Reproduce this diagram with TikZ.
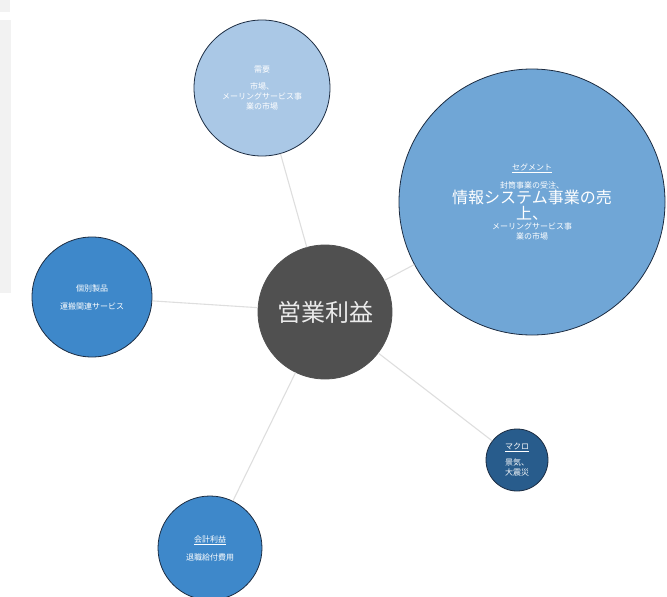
\documentclass[tikz,border=0pt]{standalone}
\usepackage{fontspec}
\setmainfont{Noto Sans CJK JP}
\usepackage{xcolor}
\usetikzlibrary{positioning}
\definecolor{mapcore}{RGB}{80,80,80}
\definecolor{mappale}{RGB}{170,200,230}
\definecolor{mapmid}{RGB}{112,166,214}
\definecolor{mapblue}{RGB}{62,136,202}
\definecolor{mapdeep}{RGB}{40,92,140}
\definecolor{mapedge}{RGB}{28,44,66}
\definecolor{maplink}{RGB}{222,222,222}
\definecolor{mapside}{RGB}{242,242,242}

\begin{document}
\begin{tikzpicture}[
    x=1pt, y=-1pt,
    bubble/.style={circle, draw=mapedge, line width=0.8pt, inner sep=0pt, align=center, text=white, font=\fontsize{8}{10}\selectfont},
    link/.style={draw=maplink, line width=1.1pt}
]
    \useasboundingbox (0,0) rectangle (667,597);
    \fill[mapside] (0,0) rectangle (10,12);
    \fill[mapside] (0,20) rectangle (11,293);

    \node[bubble, fill=mapcore, draw=mapcore, minimum size=134pt, text=white!92!black, font=\fontsize{24}{28}\selectfont] (core) at (325,312) {営業利益};
    \node[bubble, fill=mappale, minimum size=136pt] (demand) at (262,88) {需要\\[7pt]市場、\\メーリングサービス事\\業の市場};
    \node[bubble, fill=mapmid, minimum size=266pt] (segment) at (532,202) {\underline{セグメント}\\[8pt]封筒事業の受注、\\ \fontsize{16}{17}\selectfont 情報システム事業の売\\ \fontsize{16}{17}\selectfont 上、\\ \fontsize{8}{10}\selectfont メーリングサービス事\\ \fontsize{8}{10}\selectfont 業の市場};
    \node[bubble, fill=mapblue, minimum size=120pt] (product) at (92,297) {個別製品\\[8pt]運搬関連サービス};
    \node[bubble, fill=mapdeep, minimum size=62pt] (macro) at (517,460) {\underline{マクロ}\\[6pt]景気、\\大震災};
    \node[bubble, fill=mapblue, minimum size=104pt] (account) at (210,548) {\underline{会計利益}\\[8pt]退職給付費用};

    \draw[link] (core) -- (demand);
    \draw[link] (core) -- (segment);
    \draw[link] (core) -- (product);
    \draw[link] (core) -- (macro);
    \draw[link] (core) -- (account);
\end{tikzpicture}
\end{document}
